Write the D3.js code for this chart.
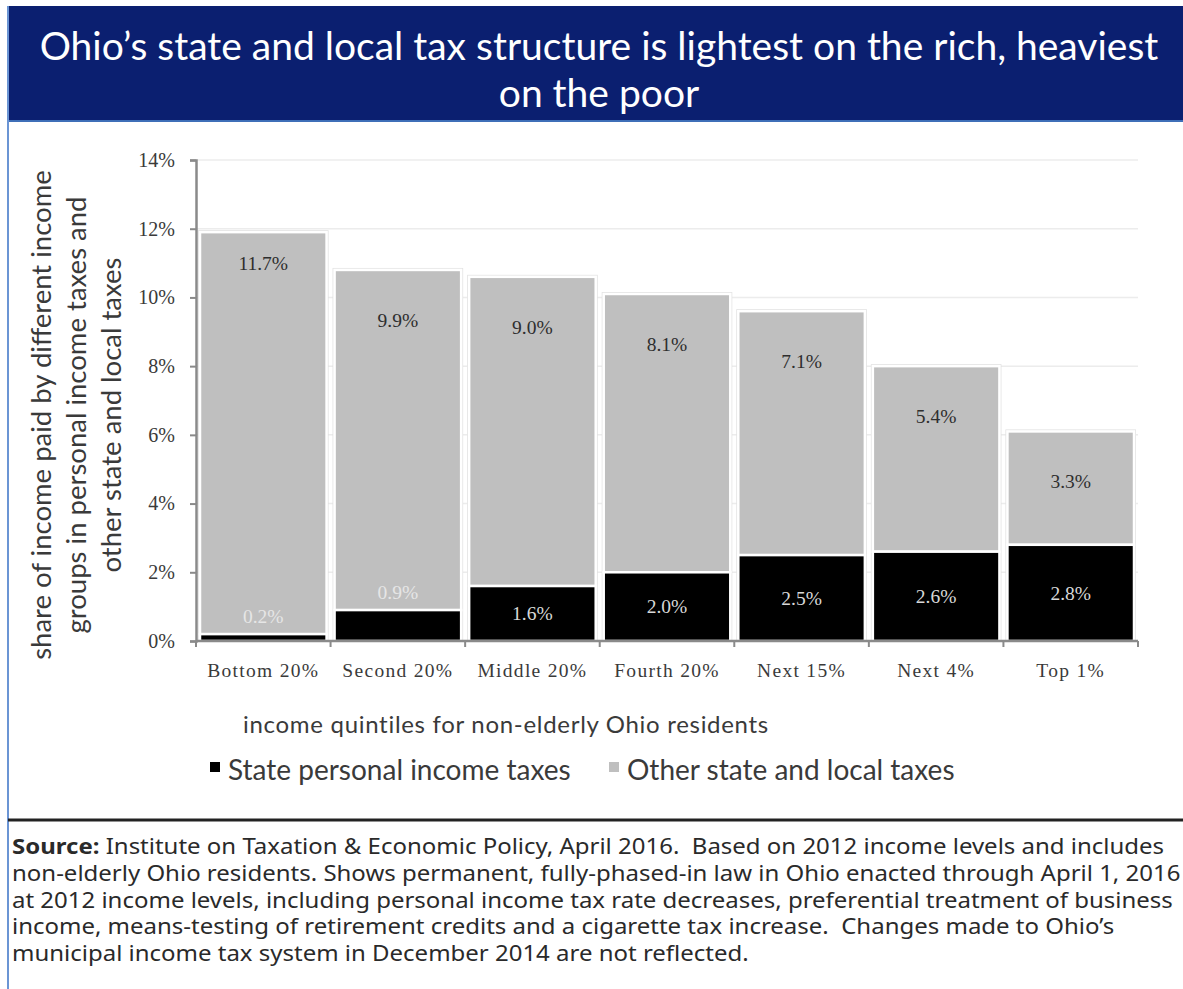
<!DOCTYPE html>
<html>
<head>
<meta charset="utf-8">
<script src="https://cdn.jsdelivr.net/npm/d3@7"></script>
<style>
  body { margin: 0; background: #fff; }
  svg { display: block; }
</style>
</head>
<body>
<div id="viz"></div>
<script>
const width = 1183;
const height = 989;

// data
const groups = ['Bottom 20%', 'Second 20%', 'Middle 20%', 'Fourth 20%', 'Next 15%', 'Next 4%', 'Top 1%'];
const incomeTax = [0.2, 0.9, 1.6, 2.0, 2.5, 2.6, 2.8];
const otherTaxes = [11.7, 9.9, 9.0, 8.1, 7.1, 5.4, 3.3];
const yTicks = [0, 2, 4, 6, 8, 10, 12, 14];
const seriesNames = ['State personal income taxes', 'Other state and local taxes'];

const titleLines = ['Ohio\u2019s state and local tax structure is lightest on the rich, heaviest', 'on the poor'];
const yLabelLines = ['share of income paid by different income', 'groups in personal income taxes and', 'other state and local taxes'];
const xLabel = 'income quintiles for non-elderly Ohio residents';
const sourceLines = [
  'Institute on Taxation & Economic Policy, April 2016.  Based on 2012 income levels and includes',
  'non-elderly Ohio residents. Shows permanent, fully-phased-in law in Ohio enacted through April 1, 2016',
  'at 2012 income levels, including personal income tax rate decreases, preferential treatment of business',
  'income, means-testing of retirement credits and a cigarette tax increase.  Changes made to Ohio\u2019s',
  'municipal income tax system in December 2014 are not reflected.'
];

const colorIncome = '#000000';
const colorOther = '#bfbfbf';
const colorText = '#3a3a3a';
const colorBanner = '#0b1f70';

const plot = {left: 196, right: 1138, top: 160, bottom: 641};

const svg = d3.select('#viz')
  .append('svg')
    .attr('width', width)
    .attr('height', height);

// banner + frame
svg.append('rect')
  .attr('x', 7).attr('y', 6)
  .attr('width', width - 7).attr('height', 116)
  .attr('fill', colorBanner);
svg.append('line')
  .attr('x1', 7).attr('x2', width)
  .attr('y1', 121).attr('y2', 121)
  .attr('stroke', '#3f6fb8').attr('stroke-width', 2);
svg.append('line')
  .attr('x1', 8).attr('x2', 8)
  .attr('y1', 6).attr('y2', height)
  .attr('stroke', '#6b95d4').attr('stroke-width', 2);

svg.selectAll('.title')
  .data(titleLines)
  .join('text')
    .attr('class', 'title')
    .attr('x', 599)
    .attr('y', (d, i) => 60 + i * 47)
    .attr('text-anchor', 'middle')
    .attr('fill', '#ffffff')
    .style('font-family', 'Lato, sans-serif')
    .style('font-size', '39px')
    .text(d => d);

// scales
const xScale = d3.scaleBand()
  .domain(groups)
  .range([plot.left, plot.right]);
const yScale = d3.scaleLinear()
  .domain([0, 14])
  .range([plot.bottom, plot.top]);

// gridlines
svg.append('g')
    .attr('class', 'grid')
  .selectAll('line')
  .data(yTicks.slice(1))
  .join('line')
    .attr('x1', plot.left)
    .attr('x2', plot.right)
    .attr('y1', d => yScale(d))
    .attr('y2', d => yScale(d))
    .attr('stroke', '#ececec')
    .attr('stroke-width', 1.5);

// bars
const rows = groups.map((g, i) => ({group: g, income: incomeTax[i], other: otherTaxes[i]}));
const pad = 4;
const bars = svg.append('g').attr('class', 'bars')
  .selectAll('g')
  .data(rows)
  .join('g');

// soft shadow behind each stack
bars.append('rect')
  .attr('x', d => xScale(d.group) + pad - 2)
  .attr('y', d => yScale(d.income + d.other) - 2)
  .attr('width', xScale.bandwidth() - 2 * pad + 4)
  .attr('height', d => plot.bottom - yScale(d.income + d.other) + 2)
  .attr('fill', '#e2e2e2');

bars.append('rect')
  .attr('x', d => xScale(d.group) + pad)
  .attr('y', d => yScale(d.income + d.other))
  .attr('width', xScale.bandwidth() - 2 * pad)
  .attr('height', d => yScale(d.income) - yScale(d.income + d.other))
  .attr('fill', colorOther)
  .attr('stroke', '#fff')
  .attr('stroke-width', 2.5);

bars.append('rect')
  .attr('x', d => xScale(d.group) + pad)
  .attr('y', d => yScale(d.income))
  .attr('width', xScale.bandwidth() - 2 * pad)
  .attr('height', d => plot.bottom - yScale(d.income))
  .attr('fill', colorIncome)
  .attr('stroke', '#fff')
  .attr('stroke-width', 2.5);

// value labels
const labelFont = '"Liberation Serif", serif';
bars.append('text')
  .attr('x', d => xScale(d.group) + xScale.bandwidth() / 2)
  .attr('y', (d, i) => yScale(d.income + d.other) + (i === 0 ? 31 : 50))
  .attr('dy', '0.35em')
  .attr('text-anchor', 'middle')
  .attr('fill', '#2e2e2e')
  .style('font-family', labelFont)
  .style('font-size', '19.5px')
  .text(d => d.other.toFixed(1) + '%');

bars.append('text')
  .attr('x', d => xScale(d.group) + xScale.bandwidth() / 2)
  .attr('y', d => {
    const h = plot.bottom - yScale(d.income);
    return h < 40 ? yScale(d.income) - 18 : (yScale(d.income) + plot.bottom) / 2;
  })
  .attr('dy', '0.35em')
  .attr('text-anchor', 'middle')
  .attr('fill', d => (plot.bottom - yScale(d.income)) < 40 ? '#e6e6e6' : '#d8d8d8')
  .style('font-family', labelFont)
  .style('font-size', '19.5px')
  .text(d => d.income.toFixed(1) + '%');

// y axis
const yAxisGroup = svg.append('g')
    .attr('class', 'y-axis')
    .attr('transform', `translate(${plot.left}, 0)`)
  .call(d3.axisLeft(yScale).tickValues(yTicks).tickFormat(d => d + '%').tickSize(6).tickPadding(15));
yAxisGroup.select('.domain').attr('stroke', '#8a8a8a').attr('stroke-width', 2.5);
yAxisGroup.selectAll('.tick line').attr('stroke', '#8a8a8a').attr('stroke-width', 2);
yAxisGroup.selectAll('.tick text')
  .attr('fill', colorText)
  .style('font-family', labelFont)
  .style('font-size', '20px');

// x axis
const xAxisGroup = svg.append('g')
  .attr('class', 'x-axis');
xAxisGroup.append('line')
  .attr('x1', plot.left).attr('x2', plot.right)
  .attr('y1', plot.bottom).attr('y2', plot.bottom)
  .attr('stroke', '#8a8a8a').attr('stroke-width', 2.5);
xAxisGroup.selectAll('.xtick')
  .data(groups.map(g => xScale(g)).concat([plot.right]))
  .join('line')
    .attr('class', 'xtick')
    .attr('x1', d => d).attr('x2', d => d)
    .attr('y1', plot.bottom).attr('y2', plot.bottom + 6)
    .attr('stroke', '#8a8a8a').attr('stroke-width', 2);
xAxisGroup.selectAll('.cat-label')
  .data(groups)
  .join('text')
    .attr('class', 'cat-label')
    .attr('x', d => xScale(d) + xScale.bandwidth() / 2)
    .attr('y', 677)
    .attr('text-anchor', 'middle')
    .attr('fill', colorText)
    .style('font-family', labelFont)
    .style('font-size', '19.5px')
    .style('letter-spacing', '1.3px')
    .text(d => d);

// axis titles
svg.append('text')
  .attr('x', 506)
  .attr('y', 733)
  .attr('text-anchor', 'middle')
  .attr('fill', colorText)
  .style('font-family', 'Lato, sans-serif')
  .style('font-size', '24px')
  .style('letter-spacing', '0.7px')
  .text(xLabel);

svg.append('g')
    .attr('transform', 'translate(0, 415) rotate(-90)')
  .selectAll('text')
  .data(yLabelLines)
  .join('text')
    .attr('x', 0)
    .attr('y', (d, i) => 51 + i * 35)
    .attr('text-anchor', 'middle')
    .attr('fill', colorText)
    .style('font-family', 'Lato, sans-serif')
    .style('font-size', '27.5px')
    .text(d => d);

// legend
const legend = svg.append('g').attr('class', 'legend');
const legendX = [210, 609];
const legendColors = [colorIncome, colorOther];
legend.selectAll('rect')
  .data(seriesNames)
  .join('rect')
    .attr('x', (d, i) => legendX[i])
    .attr('y', 762)
    .attr('width', 10)
    .attr('height', 10)
    .attr('fill', (d, i) => legendColors[i]);
legend.selectAll('text')
  .data(seriesNames)
  .join('text')
    .attr('x', (d, i) => legendX[i] + 18)
    .attr('y', 780)
    .attr('fill', colorText)
    .style('font-family', 'Lato, sans-serif')
    .style('font-size', '28px')
    .text(d => d);

// source note
svg.append('line')
  .attr('x1', 8).attr('x2', width)
  .attr('y1', 820).attr('y2', 820)
  .attr('stroke', '#222').attr('stroke-width', 3);

const source = svg.append('text')
  .attr('fill', '#2a2a2a')
  .style('font-family', '"Noto Sans", sans-serif')
  .style('font-size', '21px')
  .style('white-space', 'pre');
sourceLines.forEach((line, i) => {
  const t = source.append('tspan')
    .attr('x', 12)
    .attr('y', 854 + i * 26.8);
  if (i === 0) {
    t.append('tspan').style('font-weight', 'bold').text('Source: ');
  }
  t.append('tspan').text(line);
});
// stretch the note horizontally so the first line spans the same width as the original
const firstLineWidth = source.select('tspan').node().getComputedTextLength();
const sx = 1153 / firstLineWidth;
source.attr('transform', `translate(12, 0) scale(${sx}, 1) translate(-12, 0)`);
</script>
</body>
</html>
